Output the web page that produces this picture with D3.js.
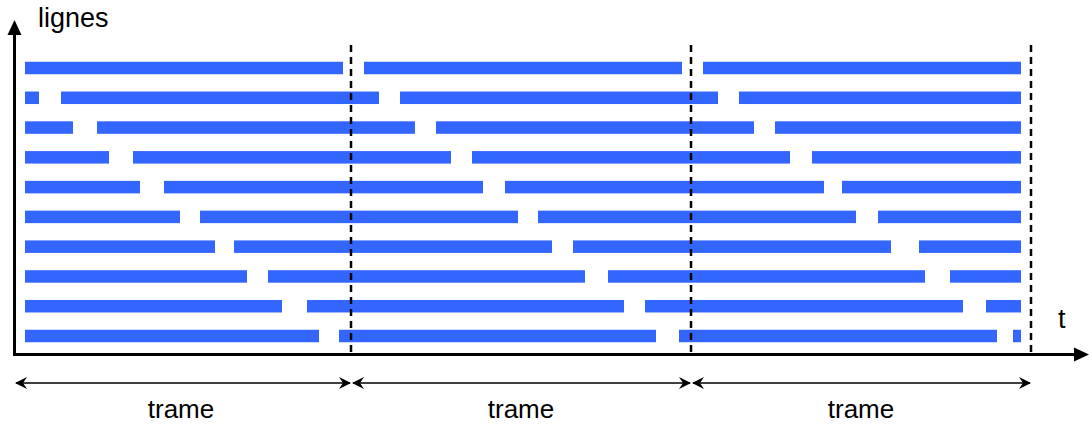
<!DOCTYPE html>
<html>
<head>
<meta charset="utf-8">
<script src="https://cdn.jsdelivr.net/npm/d3@7"></script>
<style>
  body { margin: 0; background: #fff; }
  text { font-family: "Liberation Sans", Arial, sans-serif; fill: #000; }
</style>
</head>
<body>
<div id="chart"></div>
<script>
// temps en unités arbitraires, une trame = 340
const lines = [1, 2, 3, 4, 5, 6, 7, 8, 9, 10];
const lineStarts = [
  [14, 353, 692],
  [14, 50, 389, 728],
  [14, 86, 425, 764],
  [14, 122, 461, 801],
  [14, 153, 494, 831],
  [14, 189, 527, 867],
  [14, 223, 562, 908],
  [14, 257, 597, 939],
  [14, 296, 634, 975],
  [14, 328, 668, 1002]
];
const lineEnds = [
  [332, 671, 1010],
  [28, 368, 707, 1010],
  [62, 404, 743, 1010],
  [98, 440, 779, 1010],
  [129, 472, 813, 1010],
  [169, 507, 845, 1010],
  [204, 541, 880, 1010],
  [236, 574, 914, 1010],
  [271, 613, 952, 1010],
  [308, 645, 986, 1010]
];
const frameBounds = [0, 340, 680, 1020];
const frameLabel = "trame";

const width = 1089, height = 425;
const axisX = 14.5, axisY = 354.5;

const svg = d3.select("#chart").append("svg")
  .attr("width", width).attr("height", height);

const x = d3.scaleLinear().domain([0, 1020]).range([11, 1031]);
const y = d3.scalePoint().domain(lines).range([68, 336]);
const barH = 12.5;

// segments
let segs = [];
lines.forEach((l, i) => {
  lineStarts[i].forEach((s, j) => segs.push({ line: l, s: s, e: lineEnds[i][j] }));
});

svg.append("g").selectAll("rect")
  .data(segs)
  .enter().append("rect")
  .attr("x", d => x(d.s))
  .attr("width", d => x(d.e) - x(d.s))
  .attr("y", d => y(d.line) - barH / 2)
  .attr("height", barH)
  .attr("fill", "#3366ff");

// limites de trame (pointillés)
svg.append("g").selectAll("line")
  .data(frameBounds.slice(1))
  .enter().append("line")
  .attr("x1", d => x(d)).attr("x2", d => x(d))
  .attr("y1", 45).attr("y2", axisY)
  .attr("stroke", "#000")
  .attr("stroke-width", 2.5)
  .attr("stroke-dasharray", "7,5");

// axes
svg.append("line")
  .attr("x1", axisX).attr("x2", axisX)
  .attr("y1", axisY + 1.5).attr("y2", 32)
  .attr("stroke", "#000").attr("stroke-width", 3);
svg.append("path")
  .attr("d", `M${axisX},20 L${axisX + 7},35 L${axisX - 7},35 Z`)
  .attr("fill", "#000");

svg.append("line")
  .attr("x1", axisX - 1.5).attr("x2", 1077)
  .attr("y1", axisY).attr("y2", axisY)
  .attr("stroke", "#000").attr("stroke-width", 3);
svg.append("path")
  .attr("d", `M1089,${axisY} L1074,${axisY - 7} L1074,${axisY + 7} Z`)
  .attr("fill", "#000");

svg.append("text")
  .attr("x", 38).attr("y", 27)
  .attr("font-size", "27px")
  .text("lignes");
svg.append("text")
  .attr("x", 1058).attr("y", 328)
  .attr("font-size", "27px")
  .text("t");

// flèches de trame
const defs = svg.append("defs");
defs.append("marker")
  .attr("id", "head")
  .attr("viewBox", "0 -6 12 12")
  .attr("refX", 11).attr("refY", 0)
  .attr("markerWidth", 12).attr("markerHeight", 12)
  .attr("markerUnits", "userSpaceOnUse")
  .attr("orient", "auto-start-reverse")
  .append("path")
  .attr("d", "M0,-6 L12,0 L0,6 L4,0 Z")
  .attr("fill", "#000");

const frames = d3.pairs(frameBounds);
const ay = 383;

svg.append("g").selectAll("line")
  .data(frames)
  .enter().append("line")
  .attr("x1", (d, i) => i === 0 ? 16 : x(d[0]) + 2)
  .attr("x2", d => x(d[1]) - 1)
  .attr("y1", ay).attr("y2", ay)
  .attr("stroke", "#000")
  .attr("stroke-width", 1.5)
  .attr("marker-start", "url(#head)")
  .attr("marker-end", "url(#head)");

svg.append("g").selectAll("text")
  .data(frames)
  .enter().append("text")
  .attr("x", d => x((d[0] + d[1]) / 2))
  .attr("y", 418)
  .attr("text-anchor", "middle")
  .attr("font-size", "26px")
  .text(frameLabel);
</script>
</body>
</html>
